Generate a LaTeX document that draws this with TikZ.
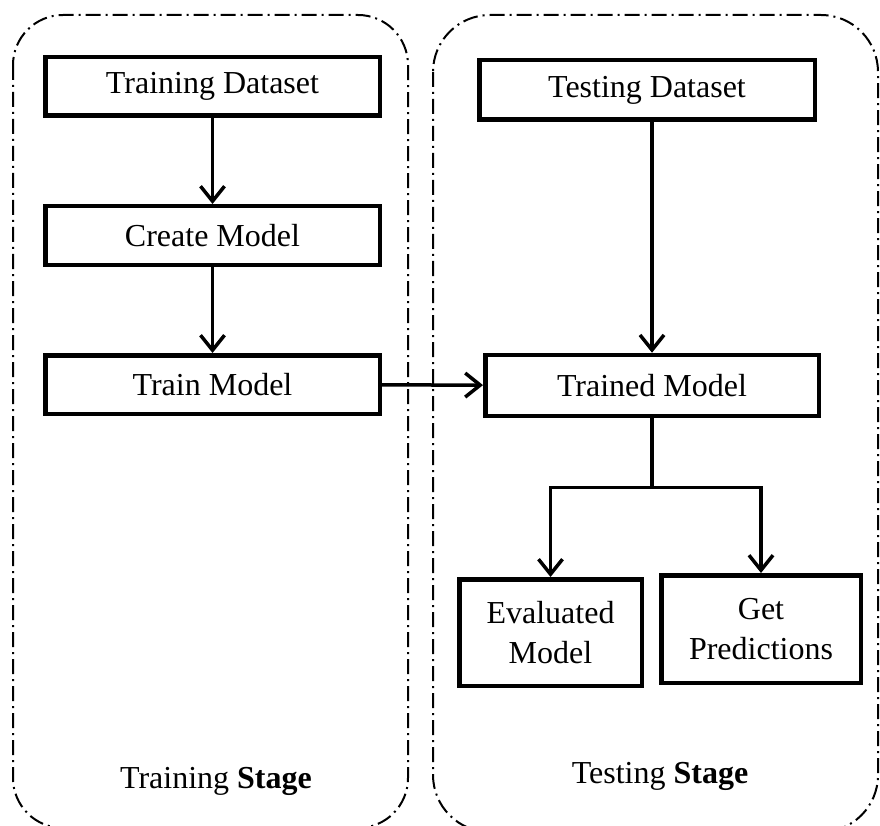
\documentclass[tikz,border=0pt]{standalone}
\usepackage{fontspec}
\setmainfont{Liberation Serif}
\usetikzlibrary{arrows.meta,calc}
\begin{document}
\begin{tikzpicture}[x=1pt,y=-1pt,
  stage/.style={line width=2pt, dash pattern=on 15pt off 5pt on 2pt off 5pt},
  box/.style={draw, line width=4.5pt, inner sep=0pt, align=center,
    font=\fontsize{32}{40}\selectfont},
  lbl/.style={inner sep=0pt, anchor=base, font=\fontsize{32}{40}\selectfont},
  line/.style={line width=3.5pt},
  arr/.style={line width=3.5pt, -{Straight Barb[length=15pt,width=24pt]}}]
\useasboundingbox (0,0) rectangle (880,826);
% stage containers
\draw[stage, rounded corners=50pt] (13,15) rectangle (408,828);
\draw[stage, rounded corners=57pt] (433,15) rectangle (878,832);
% boxes
\node[box, minimum width=334.5pt, minimum height=58.5pt] (trd) at (212.5,86.5) {Training Dataset};
\node[box, minimum width=334.5pt, minimum height=58.5pt] (crm) at (212.5,235.5) {Create Model};
\node[box, minimum width=334.5pt, minimum height=58.5pt] (trn) at (212.5,384.5) {Train Model};
\node[box, minimum width=335.5pt, minimum height=59.5pt] (tsd) at (647,90) {Testing Dataset};
\node[box, minimum width=333.5pt, minimum height=61pt] (trm) at (652,385.5) {Trained Model};
\node[box, minimum width=182.5pt, minimum height=106.5pt] (evm) at (550.5,632.5) {Evaluated\\Model};
\node[box, minimum width=199.5pt, minimum height=107.5pt] (gpr) at (761,629) {Get\\Predictions};
% labels
\node[lbl] (trs) at (216,788) {Training \textbf{Stage}};
\node[lbl] (tss) at (660,783) {Testing \textbf{Stage}};
% connectors
\draw[arr] (trd) -- (crm);
\draw[arr] (crm) -- (trn);
\draw[arr] (trn) -- (trm);
\draw[arr] (tsd.south -| trm.north) -- (trm.north);
\path (trm.south) ++(0,69) coordinate (jn);
\draw[line] (trm.south) -- (jn);
\draw[arr] (jn) -| (evm.north);
\draw[arr] (jn) -| (gpr.north);
\end{tikzpicture}
\end{document}
